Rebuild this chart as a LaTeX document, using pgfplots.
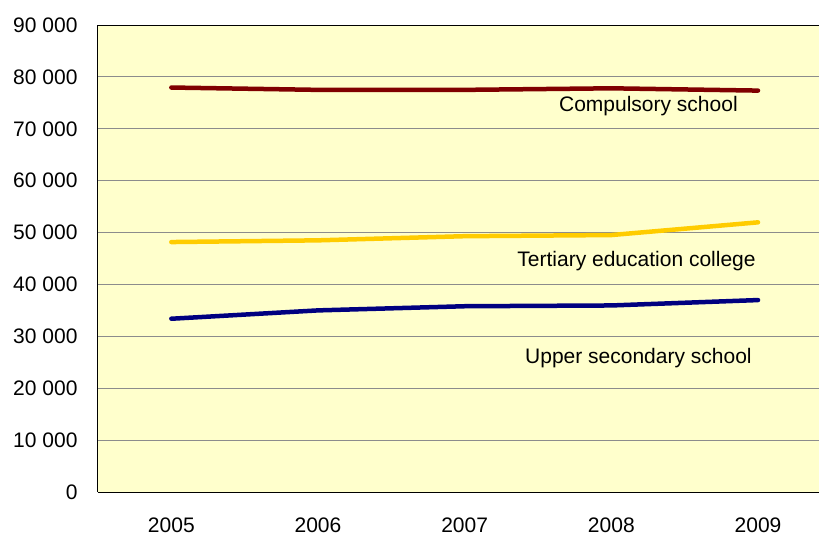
\documentclass[border=0pt]{standalone}
\usepackage{fontspec}
\setmainfont{Liberation Sans}
\usepackage{pgfplots}
\pgfplotsset{compat=1.18}
\definecolor{bgy}{HTML}{FFFFCC}
\definecolor{cred}{HTML}{800000}
\definecolor{cyel}{HTML}{FFCC00}
\definecolor{cblu}{HTML}{000080}
\begin{document}
\begin{tikzpicture}
\begin{axis}[
  at={(0,0)}, anchor=south west,
  scale only axis,
  width=726pt, height=467pt,
  xmin=-0.5, xmax=4.45,
  ymin=0, ymax=90000,
  axis x line*=box, axis y line*=left,
  axis line style={black, line width=1pt},
  axis background/.style={fill=bgy},
  xtick={0,1,2,3,4},
  xticklabels={2005,2006,2007,2008,2009},
  major x tick style={draw=none},
  extra x ticks={-0.5,0.5,1.5,2.5,3.5},
  extra x tick labels={},
  extra x tick style={tick style={draw=black,line width=0.8pt}, tick align=outside, major tick length=5pt, grid=none},
  ytick={0,10000,...,90000},
  major y tick style={draw=none},
  ymajorgrids,
  grid style={color=black!45, line width=0.9pt},
  scaled y ticks=false,
  /pgf/number format/.cd, 1000 sep={\ }, assume math mode=true,
  /pgfplots/.cd,
  yticklabel style={font=\fontsize{21}{21}\selectfont, xshift=-17pt},
  xticklabel style={font=\fontsize{21}{21}\selectfont, yshift=-22pt},
  clip=true,
]
\addplot[color=cred, line width=4.5pt, line cap=round] coordinates {(0,77950) (1,77500) (2,77500) (3,77800) (4,77360)};
\addplot[color=cyel, line width=4.5pt, line cap=round] coordinates {(0,48170) (1,48500) (2,49300) (3,49520) (4,51970)};
\addplot[color=cblu, line width=4.5pt, line cap=round] coordinates {(0,33390) (1,35000) (2,35800) (3,35950) (4,36990)};
\node[anchor=east, font=\fontsize{21}{21}\selectfont, inner sep=0pt] at (axis cs:3.863,74300) {Compulsory school};
\node[anchor=east, font=\fontsize{21}{21}\selectfont, inner sep=0pt] at (axis cs:3.985,44600) {Tertiary education college};
\node[anchor=east, font=\fontsize{21}{21}\selectfont, inner sep=0pt] at (axis cs:3.958,25900) {Upper secondary school};
\end{axis}
\pgfresetboundingbox
\useasboundingbox (-98pt,-46pt) rectangle (721pt,492pt);
\end{tikzpicture}
\end{document}
